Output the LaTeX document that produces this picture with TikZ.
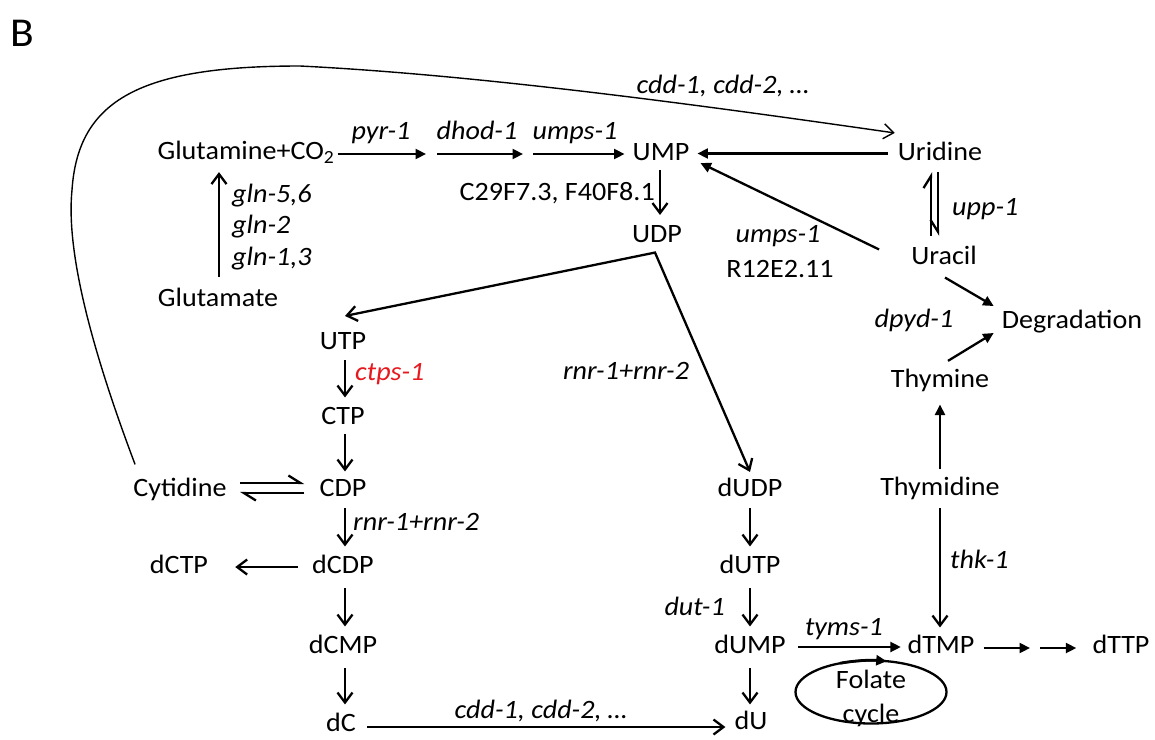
\documentclass[tikz,border=0pt]{standalone}
\usepackage{fontspec}
\setmainfont{Carlito}[FakeStretch=1.06]
\usetikzlibrary{arrows.meta,calc,shapes.geometric}
\definecolor{ctpsred}{RGB}{230,25,30}
\begin{document}
\begin{tikzpicture}[x=1pt,y=-1pt,
  every node/.style={inner sep=0pt, font=\fontsize{26.5}{30}\selectfont},
  mol/.style={text height=16.7pt, text depth=0pt},
  lab/.style={anchor=base, font=\fontsize{26.5}{30}\selectfont\itshape},
  txt/.style={anchor=base},
  ln/.style={line width=2.3pt},
  oa/.style={ln, -{Straight Barb[length=10pt,width=15pt]}},
  fa/.style={ln, -{Triangle[length=10.5pt,width=10pt]}},
  hl/.style={ln, -{Straight Barb[left,length=12pt,width=15pt]}},
  hr/.style={ln, -{Straight Barb[right,length=12pt,width=15pt]}},
  thinoa/.style={line width=1.4pt, -{Straight Barb[length=10pt,width=15pt]}},
]
\useasboundingbox (0,0) rectangle (1155,739);

% panel letter
\node[mol, text height=26pt, font=\fontsize{41}{46}\selectfont] (B) at (22.5,33.5) {B};

% metabolites
\node[mol] (GlnCO2) at (246,151) {Glutamine+CO\textsubscript{2}};
\node[mol] (UMP) at (661,152.5) {UMP};
\node[mol] (Uridine) at (940,152.5) {Uridine};
\node[mol] (UDP) at (657,234) {UDP};
\node[mol] (Uracil) at (944,256) {Uracil};
\node[mol] (Degr) at (1072,320) {Degradation};
\node[mol] (Thymine) at (940,379) {Thymine};
\node[mol] (Glutamate) at (218,298) {Glutamate};
\node[mol] (UTP) at (343,341.5) {UTP};
\node[mol] (CTP) at (343,416) {CTP};
\node[mol] (CDP) at (343,488) {CDP};
\node[mol] (Cytidine) at (180,488) {Cytidine};
\node[mol] (dCDP) at (343,565) {dCDP};
\node[mol] (dCTP) at (179,565) {dCTP};
\node[mol] (dCMP) at (343,645) {dCMP};
\node[mol] (dC) at (341,723) {dC};
\node[mol] (dUDP) at (750,488.5) {dUDP};
\node[mol] (dUTP) at (750,565) {dUTP};
\node[mol] (dUMP) at (750,645) {dUMP};
\node[mol] (dU) at (751,721) {dU};
\node[mol] (Thymidine) at (940,487) {Thymidine};
\node[mol] (dTMP) at (941,645) {dTMP};
\node[mol] (dTTP) at (1121,645) {dTTP};

% folate cycle
\node[draw, ellipse, ln, minimum width=151pt, minimum height=63pt] (fol) at (871,692) {};
\node[txt] (folT) at (871,688) {Folate};
\node[txt] (folC) at (871,722) {cycle};
\draw[ln, line width=2.8pt, -{Triangle[length=10.5pt,width=10pt]}] ($(fol.center)+(114:75.5pt and 31.5pt)$) arc[start angle=114, end angle=78, x radius=75.5pt, y radius=31.5pt];

% top row
\coordinate (a1) at (426,154);
\coordinate (a2) at (437,154);
\coordinate (a3) at (523,154);
\coordinate (a4) at (533,154);
\draw[fa] ($(GlnCO2.east)+(3,3)$) -- (a1);
\draw[fa] (a2) -- (a3);
\draw[fa] (a4) -- ($(UMP.west)+(-8,1.5)$);
\draw[fa] ($(Uridine.west)+(-10,1)$) -- ($(UMP.east)+(8,1)$);
\draw[fa] ($(Uracil.north west)+(-32,2)$) -- ($(UMP.south east)+(11,2)$);
\draw[oa] ($(UMP.south)+(-1,9)$) -- ($(UMP.south |- UDP.north)+(-1,-10.5)$);

% uridine / uracil
\draw[hl] ($(Uridine.south |- Uracil.north)+(-9,-11.6)$) -- ($(Uridine.south)+(-9,11)$);
\draw[hr] ($(Uridine.south)+(-2,11)$) -- ($(Uridine.south |- Uracil.north)+(-2,-11.6)$);
\draw[fa] ($(Uracil.south)+(1,13)$) -- ($(Degr.west)+(-8,-14)$);
\draw[fa] ($(Thymine.north)+(8,-9.6)$) -- ($(Degr.west)+(-8,13)$);
\draw[fa] ($(Thymidine.north)+(0,-9)$) -- ($(Thymidine.north |- Thymine.south)+(0,17)$);
\draw[oa] ($(Thymidine.south)+(0,12.6)$) -- ($(Thymidine.south |- dTMP.north)+(0,-9)$);

% glutamate
\draw[oa] ($(Glutamate.north)+(1,-12.6)$) -- ($(Glutamate.north |- GlnCO2.south)+(1,12.6)$);

% UDP branches
\draw[ln, {Straight Barb[length=10pt,width=15pt]}-{Straight Barb[length=10pt,width=15pt]}]
  ($(UTP.north)+(2,-17)$) -- ($(UDP.south)+(-2,10)$) -- ($(dUDP.north)+(0,-8)$);

% left column
\draw[oa] ($(UTP.south)+(2,10)$) -- ($(UTP.south |- CTP.north)+(2,-10)$);
\draw[oa] ($(CTP.south)+(2,9)$) -- ($(CTP.south |- CDP.north)+(2,-8)$);
\draw[oa] ($(CDP.south)+(2,11.5)$) -- ($(CDP.south |- dCDP.north)+(2,-10)$);
\draw[oa] ($(dCDP.south)+(2,14.6)$) -- ($(dCDP.south |- dCMP.north)+(2,-10)$);
\draw[oa] ($(dCMP.south)+(2,14.6)$) -- ($(dCMP.south |- dC.north)+(2,-10)$);
\draw[hl] ($(Cytidine.east)+(13,-5)$) -- ($(CDP.west)+(-15,-5)$);
\draw[hl] ($(CDP.west)+(-15,5)$) -- ($(Cytidine.east)+(13,5)$);
\draw[oa] ($(dCDP.west)+(-14,2)$) -- ($(dCTP.east)+(27,2)$);
\draw[oa] ($(dC.east)+(11,4)$) -- ($(dU.west)+(-9,6)$);

% middle column
\draw[oa] ($(dUDP.south)+(0,11)$) -- ($(dUDP.south |- dUTP.north)+(0,-10)$);
\draw[oa] ($(dUTP.south)+(0,14.6)$) -- ($(dUTP.south |- dUMP.north)+(0,-10)$);
\draw[oa] ($(dUMP.south)+(0,14.6)$) -- ($(dUMP.south |- dU.north)+(0,-8)$);
\draw[fa] ($(dUMP.east)+(12,2)$) -- ($(dTMP.west)+(-6.5,2)$);
\coordinate (t1) at (1030,648);
\coordinate (t2) at (1040,648);
\draw[fa] ($(dTMP.east)+(9,3)$) -- (t1);
\draw[fa] (t2) -- ($(dTTP.west)+(-16,3)$);

% big curve cytidine -> uridine
\draw[thinoa] ($(Cytidine.north west)+(2,-15)$) .. controls (90,345) and (66,250) .. (72,190)
  .. controls (78,100) and (140,66) .. (300,66)
  .. controls (480,75) and (700,105) .. ($(Uridine.north west)+(-3,-11)$);

% labels
\node[lab] (Lpyr) at (381,139) {pyr-1};
\node[lab] (Ldhod) at (477,139) {dhod-1};
\node[lab] (Lumps1) at (575,139) {umps-1};
\node[txt, anchor=base east] (Lc29) at (655,200) {C29F7.3, F40F8.1};
\node[lab, anchor=base west] (Lgln56) at (232,202) {gln-5,6};
\node[lab, anchor=base west] (Lgln2) at (232,233) {gln-2};
\node[lab, anchor=base west] (Lgln13) at (232,265) {gln-1,3};
\node[lab] (Lcddtop) at (723,93) {cdd-1, cdd-2, …};
\node[lab] (Lumps2) at (778,242) {umps-1};
\node[txt] (Lr12) at (780,277) {R12E2.11};
\node[lab, anchor=base west] (Lupp) at (952,215) {upp-1};
\node[lab] (Ldpyd) at (914,327) {dpyd-1};
\node[lab, anchor=base west, text=ctpsred] (Lctps) at (355,380) {ctps-1};
\node[lab, anchor=base west] (Lrnr1) at (353,530) {rnr-1+rnr-2};
\node[lab] (Lrnr2) at (626,379) {rnr-1+rnr-2};
\node[lab, anchor=base east] (Ldut) at (725,615) {dut-1};
\node[lab] (Ltyms) at (844,635) {tyms-1};
\node[lab, anchor=base west] (Lthk) at (950,568) {thk-1};
\node[lab] (Lcddbot) at (541,718) {cdd-1, cdd-2, …};
\end{tikzpicture}
\end{document}
